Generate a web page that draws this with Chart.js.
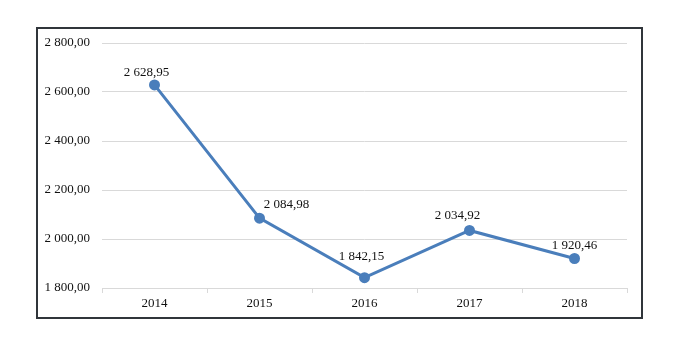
<!DOCTYPE html>
<html>
<head>
<meta charset="utf-8">
<script src="https://cdn.jsdelivr.net/npm/chart.js@4/dist/chart.umd.min.js"></script>
<style>
    html, body { margin: 0; padding: 0; background: #fff; }
    #wrap  { position: relative; width: 680px; height: 354px; }
    #frame { position: absolute; left: 36px; top: 27px; width: 607px; height: 292px;
             border: 2px solid #30353a; box-sizing: border-box; pointer-events: none; }
</style>
</head>
<body>
<div id="wrap">
    <canvas id="chart" width="680" height="354"></canvas>
    <div id="frame"></div>
</div>
<script>
const years  = ['2014', '2015', '2016', '2017', '2018']
const values = [2628.95, 2084.98, 1842.15, 2034.92, 1920.46]
const yTicks = [1800, 2000, 2200, 2400, 2600, 2800]

// "2 628,95"
function fmt(v) {
    let [int, dec] = v.toFixed(2).split('.')
    return int.replace(/\B(?=(\d{3})+(?!\d))/g, ' ') + ',' + dec
}

// value labels over the points, nudged like in the original
const valueLabels = {
    id: 'valueLabels',
    afterDatasetsDraw(chart, args, opts) {
        const ctx  = chart.ctx
        const meta = chart.getDatasetMeta(0)
        ctx.save()
        ctx.font         = '13px "Liberation Serif", "Times New Roman", serif'
        ctx.fillStyle    = '#111'
        ctx.textAlign    = 'center'
        ctx.textBaseline = 'middle'
        meta.data.forEach((pt, i) => {
            let [dx, dy] = opts.shift[i]
            ctx.fillText(fmt(chart.data.datasets[0].data[i]), pt.x + dx, pt.y + dy)
        })
        ctx.restore()
    }
}

const font = { family: '"Liberation Serif", "Times New Roman", serif', size: 13 }

new Chart(document.getElementById('chart'), {
    type: 'line',
    data: {
        labels: years,
        datasets: [{
            data: values,
            borderColor: '#4A7EBB',
            backgroundColor: '#4A7EBB',
            borderWidth: 3,
            pointRadius: 4,
            tension: 0
        }]
    },
    options: {
        responsive: false,
        animation: false,
        layout: { padding: { left: 30, right: 53, top: 43, bottom: 36 } },
        plugins: {
            legend: { display: false },
            tooltip: { enabled: false },
            valueLabels: { shift: [[-8, -12], [27, -14], [-3, -21], [-12, -15], [0, -13]] }
        },
        scales: {
            x: {
                offset: true,
                afterFit: s => { s.height = 30 },
                grid: { offset: true, drawOnChartArea: false, drawTicks: true, tickLength: 5, color: '#d9d9d9' },
                border: { color: '#d9d9d9' },
                ticks: { color: '#111', font: font, padding: 3, maxRotation: 0 }
            },
            y: {
                min: yTicks[0],
                max: yTicks[yTicks.length - 1],
                afterFit: s => { s.width = 72 },
                afterBuildTicks: s => { s.ticks = yTicks.map(v => ({ value: v })) },
                grid: { color: '#d9d9d9', drawTicks: false },
                border: { display: false },
                ticks: { color: '#111', font: font, padding: 12, callback: v => fmt(v) }
            }
        }
    },
    plugins: [valueLabels]
})
</script>
</body>
</html>
